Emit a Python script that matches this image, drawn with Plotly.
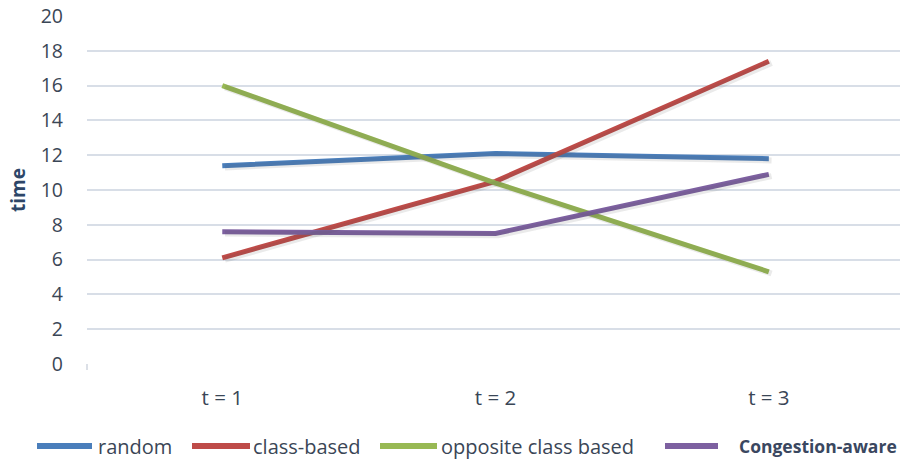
import plotly.graph_objects as go

# Time per round for each assignment strategy
rounds = ["t = 1", "t = 2", "t = 3"]
random_vals = [11.4, 12.1, 11.8]
class_based = [6.1, 10.5, 17.4]
opposite_class = [16.0, 10.4, 5.3]
congestion_aware = [7.6, 7.5, 10.9]

y_ticks = [0, 2, 4, 6, 8, 10, 12, 14, 16, 18, 20]

series = [
    ("random", random_vals, "#4A7EBB", False),
    ("class-based", class_based, "#BE4B48", False),
    ("opposite class based", opposite_class, "#98B954", False),
    ("Congestion-aware", congestion_aware, "#7D60A0", True),
]

FONT = "Open Sans, Lato, sans-serif"
TEXT = "#3a4656"

fig = go.Figure()

# soft drop shadow under each line
for name, vals, color, _ in series:
    fig.add_trace(go.Scatter(
        x=rounds, y=vals, mode="lines",
        line=dict(color="rgba(80,80,80,0.12)", width=6),
        xaxis="x2", yaxis="y2", hoverinfo="skip", showlegend=False,
    ))

for name, vals, color, _ in series:
    fig.add_trace(go.Scatter(
        x=rounds, y=vals, mode="lines", name=name,
        line=dict(color=color, width=5),
        showlegend=False,
    ))

# hand-placed legend row below the plot
legend_items = [
    (37, 92, 96),
    (192, 250, 251),
    (380, 437, 439),
    (665, 718, 737),
]
shapes = []
annotations = []
LEG_Y = -(446 - 364) / 348
for (x0, x1, tx), (name, vals, color, bold) in zip(legend_items, series):
    shapes.append(dict(
        type="line", xref="paper", yref="paper",
        x0=(x0 - 87) / 813, x1=(x1 - 87) / 813,
        y0=LEG_Y, y1=LEG_Y,
        line=dict(color=color, width=6),
    ))
    annotations.append(dict(
        xref="paper", yref="paper",
        x=(tx - 87) / 813, y=LEG_Y,
        xanchor="left", yanchor="middle", showarrow=False,
        text=f"<b>{name}</b>" if bold else name,
        font=dict(family=FONT, size=17.5 if bold else 20,
                  color="#3a4760" if bold else TEXT),
    ))

# rotated axis title
annotations.append(dict(
    xref="paper", yref="paper", x=-(87 - 18) / 813, y=(364 - 190) / 348,
    xanchor="center", yanchor="middle", showarrow=False, textangle=-90,
    text="<b>time</b>", font=dict(family=FONT, size=19, color="#2d4668"),
))

fig.update_layout(
    width=900, height=459,
    margin=dict(l=87, r=0, t=16, b=95),
    paper_bgcolor="white", plot_bgcolor="white",
    font=dict(family=FONT, color=TEXT),
    shapes=shapes, annotations=annotations,
    xaxis=dict(
        type="category", range=[-0.495, 2.48],
        showgrid=False, zeroline=False, showline=False,
        ticks="", ticklabelstandoff=19,
        tickfont=dict(size=20.5, color=TEXT),
    ),
    yaxis=dict(
        range=[0, 20], tickvals=y_ticks,
        showgrid=True, gridcolor="#d8dee7", gridwidth=1.5,
        zeroline=False, showline=False, ticks="",
        ticklabelstandoff=23,
        tickfont=dict(size=19.5, color=TEXT),
    ),
    xaxis2=dict(type="category", range=[-0.505, 2.47], overlaying="x",
                visible=False),
    yaxis2=dict(range=[0.1, 20.1], overlaying="y", visible=False),
)

# small tick at the left end of the category axis
fig.add_shape(type="line", xref="paper", yref="paper",
              x0=0, x1=0, y0=0, y1=-6 / 348,
              line=dict(color="#d0d6df", width=1.5))

fig.write_html("out.html")
